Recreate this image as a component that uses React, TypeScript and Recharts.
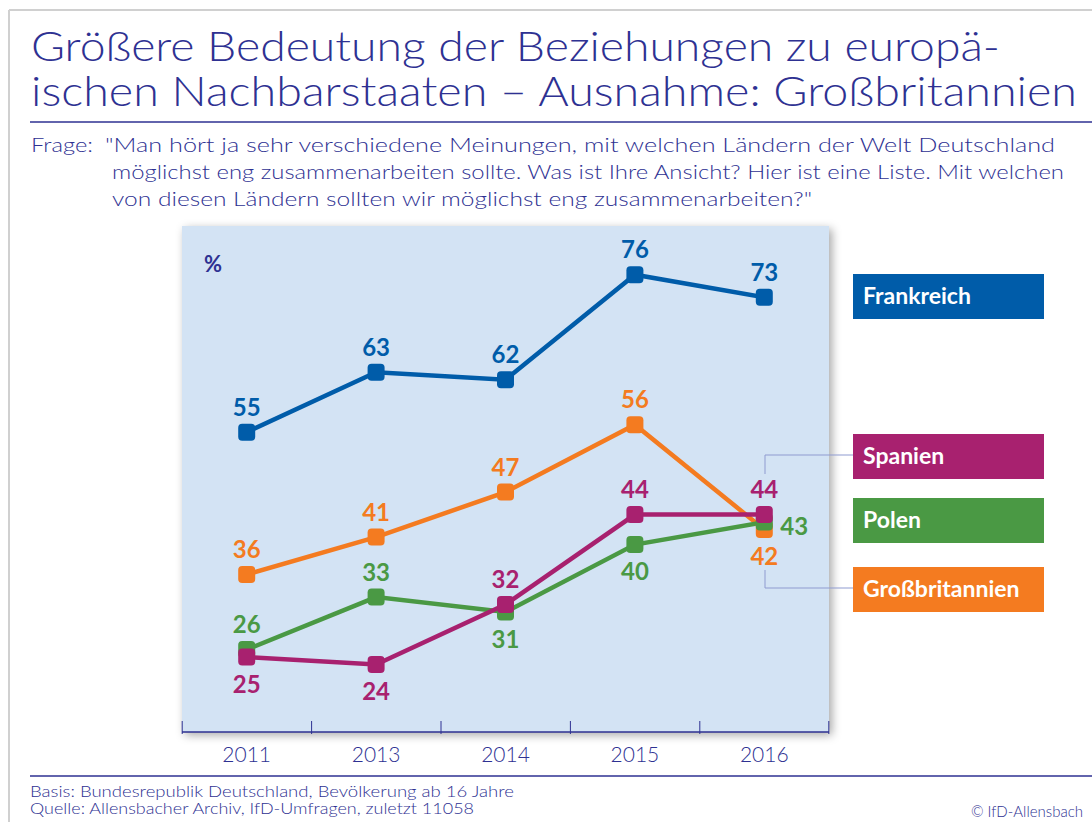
import React from 'react';
import { LineChart, Line, XAxis, YAxis, CartesianGrid, LabelList } from 'recharts';

const categories = ['2011', '2013', '2014', '2015', '2016'];
const frankreich = [55, 63, 62, 76, 73];
const grossbritannien = [36, 41, 47, 56, 42];
const polen = [26, 33, 31, 40, 43];
const spanien = [25, 24, 32, 44, 44];

const seriesNames = ['Frankreich', 'Spanien', 'Polen', 'Großbritannien'];

const data = categories.map((c, i) => ({
  year: c,
  frankreich: frankreich[i],
  grossbritannien: grossbritannien[i],
  polen: polen[i],
  spanien: spanien[i],
}));

const C = {
  fr: '#005ca9',
  gb: '#f47b20',
  pl: '#4a9944',
  es: '#a8216f',
  ink: '#2e3192',
  bg: '#d3e3f4',
};

type Place = 'top' | 'bottom' | 'right';
const placeFr: Place[] = ['top', 'top', 'top', 'top', 'top'];
const placeGb: Place[] = ['top', 'top', 'top', 'top', 'bottom'];
const placePl: Place[] = ['top', 'top', 'bottom', 'bottom', 'right'];
const placeEs: Place[] = ['bottom', 'bottom', 'top', 'top', 'top'];

const FONT = 'Lato, "Open Sans", sans-serif';

const makeLabel = (places: Place[], color: string) => (props: any) => {
  const x = props.x ?? props.viewBox?.x;
  const y = props.y ?? props.viewBox?.y;
  const idx = props.index;
  const p = places[idx];
  let tx = x;
  let ty = y;
  let anchor: 'middle' | 'start' = 'middle';
  if (p === 'top') ty = y - 26;
  else if (p === 'bottom') ty = y + 26;
  else {
    tx = x + 16;
    ty = y + 3;
    anchor = 'start';
  }
  return (
    <text
      key={`lbl-${idx}`}
      x={tx}
      y={ty}
      fill={color}
      fontSize={24}
      fontWeight={700}
      fontFamily={FONT}
      textAnchor={anchor}
      dominantBaseline="central"
    >
      {props.value}
    </text>
  );
};

const makeDot = (color: string) => (p: any) => (
  <rect
    key={`dot-${p.index}`}
    x={p.cx - 8.5}
    y={p.cy - 8.5}
    width={17}
    height={17}
    rx={4}
    ry={4}
    fill={color}
  />
);

const BAND_HALF = 64.5;

const Tick = (props: any) => {
  const { x, y, payload, index } = props;
  const last = index === categories.length - 1;
  return (
    <g>
      <line x1={x - BAND_HALF} x2={x - BAND_HALF} y1={y - 13} y2={y} stroke={C.ink} strokeWidth={1} />
      {last && <line x1={x + BAND_HALF} x2={x + BAND_HALF} y1={y - 13} y2={y} stroke={C.ink} strokeWidth={1} />}
      <text x={x} y={y + 28} textAnchor="middle" fill={C.ink} fontSize={21} fontWeight={300} fontFamily={FONT}>
        {payload.value}
      </text>
    </g>
  );
};

const legendBoxes = [
  { name: seriesNames[0], color: C.fr, y: 274 },
  { name: seriesNames[1], color: C.es, y: 434 },
  { name: seriesNames[2], color: C.pl, y: 498 },
  { name: seriesNames[3], color: C.gb, y: 567 },
];

export default function App() {
  return (
    <div style={{ position: 'relative', width: 1092, height: 822, background: '#fff', overflow: 'hidden' }}>
      <style>{'body{margin:0}'}</style>
      <svg width={1092} height={822} style={{ position: 'absolute', left: 0, top: 0 }}>
        <defs>
          <filter id="sh" x="-10%" y="-10%" width="120%" height="120%">
            <feDropShadow dx="3" dy="3" stdDeviation="5" floodColor="#000" floodOpacity="0.35" />
          </filter>
        </defs>
        <line x1={9} x2={1092} y1={10} y2={10} stroke="#d0d0d0" strokeWidth={2} />
        <line x1={9} x2={9} y1={10} y2={822} stroke="#d0d0d0" strokeWidth={2} />
        <g fill={C.ink} fontFamily={FONT} fontWeight={300}>
          <text x={31} y={61} fontSize={41} textLength={969} lengthAdjust="spacingAndGlyphs">
            Größere Bedeutung der Beziehungen zu europä-
          </text>
          <text x={31} y={106} fontSize={41} textLength={1046} lengthAdjust="spacingAndGlyphs">
            ischen Nachbarstaaten – Ausnahme: Großbritannien
          </text>
          <text x={31} y={152} fontSize={20} textLength={62} lengthAdjust="spacingAndGlyphs">Frage:</text>
          <text x={105} y={152} fontSize={20} textLength={950} lengthAdjust="spacingAndGlyphs">
            "Man hört ja sehr verschiedene Meinungen, mit welchen Ländern der Welt Deutschland
          </text>
          <text x={112} y={179} fontSize={20} textLength={952} lengthAdjust="spacingAndGlyphs">
            möglichst eng zusammenarbeiten sollte. Was ist Ihre Ansicht? Hier ist eine Liste. Mit welchen
          </text>
          <text x={112} y={206} fontSize={20} textLength={700} lengthAdjust="spacingAndGlyphs">
            von diesen Ländern sollten wir möglichst eng zusammenarbeiten?"
          </text>
          <text x={30} y={797} fontSize={16} textLength={484} lengthAdjust="spacingAndGlyphs">
            Basis: Bundesrepublik Deutschland, Bevölkerung ab 16 Jahre
          </text>
          <text x={30} y={814} fontSize={16} textLength={444} lengthAdjust="spacingAndGlyphs">
            Quelle: Allensbacher Archiv, IfD-Umfragen, zuletzt 11058
          </text>
          <text x={1083} y={817} fontSize={15} textAnchor="end">© IfD-Allensbach</text>
        </g>
        <line x1={30} x2={1092} y1={122} y2={122} stroke={C.ink} strokeWidth={1.5} />
        <line x1={30} x2={1092} y1={776} y2={776} stroke={C.ink} strokeWidth={1.5} />
        <rect x={182} y={226} width={647} height={506} fill={C.bg} filter="url(#sh)" />
      </svg>
      <div style={{ position: 'absolute', left: 0, top: 0 }}>
        <LineChart
          width={1092}
          height={822}
          data={data}
          margin={{ top: 226, right: 263, bottom: 50, left: 182 }}
        >
          <CartesianGrid horizontal={false} vertical={false} fill={C.bg} stroke="none" />
          <XAxis
            dataKey="year"
            scale="band"
            height={40}
            axisLine={{ stroke: C.ink, strokeWidth: 1.5 }}
            tickLine={false}
            tickSize={0}
            tick={<Tick />}
            interval={0}
          />
          <YAxis hide domain={[15, 82.5]} type="number" allowDataOverflow />
          <Line
            dataKey="frankreich"
            stroke={C.fr}
            strokeWidth={4.5}
            dot={makeDot(C.fr)}
            activeDot={false}
            isAnimationActive={false}
          >
            <LabelList dataKey="frankreich" content={makeLabel(placeFr, C.fr)} />
          </Line>
          <Line
            dataKey="grossbritannien"
            stroke={C.gb}
            strokeWidth={4.5}
            dot={makeDot(C.gb)}
            activeDot={false}
            isAnimationActive={false}
          >
            <LabelList dataKey="grossbritannien" content={makeLabel(placeGb, C.gb)} />
          </Line>
          <Line
            dataKey="polen"
            stroke={C.pl}
            strokeWidth={4.5}
            dot={makeDot(C.pl)}
            activeDot={false}
            isAnimationActive={false}
          >
            <LabelList dataKey="polen" content={makeLabel(placePl, C.pl)} />
          </Line>
          <Line
            dataKey="spanien"
            stroke={C.es}
            strokeWidth={4.5}
            dot={makeDot(C.es)}
            activeDot={false}
            isAnimationActive={false}
          >
            <LabelList dataKey="spanien" content={makeLabel(placeEs, C.es)} />
          </Line>
        </LineChart>
      </div>
      <svg width={1092} height={822} style={{ position: 'absolute', left: 0, top: 0, pointerEvents: 'none' }}>
        <text x={204} y={272} fill={C.ink} fontSize={22} fontWeight={700} fontFamily={FONT}>%</text>
        <polyline points="765,474 765,455 853,455" fill="none" stroke="#8f9bd0" strokeWidth={1} />
        <polyline points="765,570 765,588 853,588" fill="none" stroke="#8f9bd0" strokeWidth={1} />
        {legendBoxes.map((b) => (
          <g key={b.name}>
            <rect x={853} y={b.y} width={191} height={45} fill={b.color} />
            <text x={863} y={b.y + 30} fill="#fff" fontSize={23} fontWeight={700} fontFamily={FONT}>
              {b.name}
            </text>
          </g>
        ))}
      </svg>
    </div>
  );
}
